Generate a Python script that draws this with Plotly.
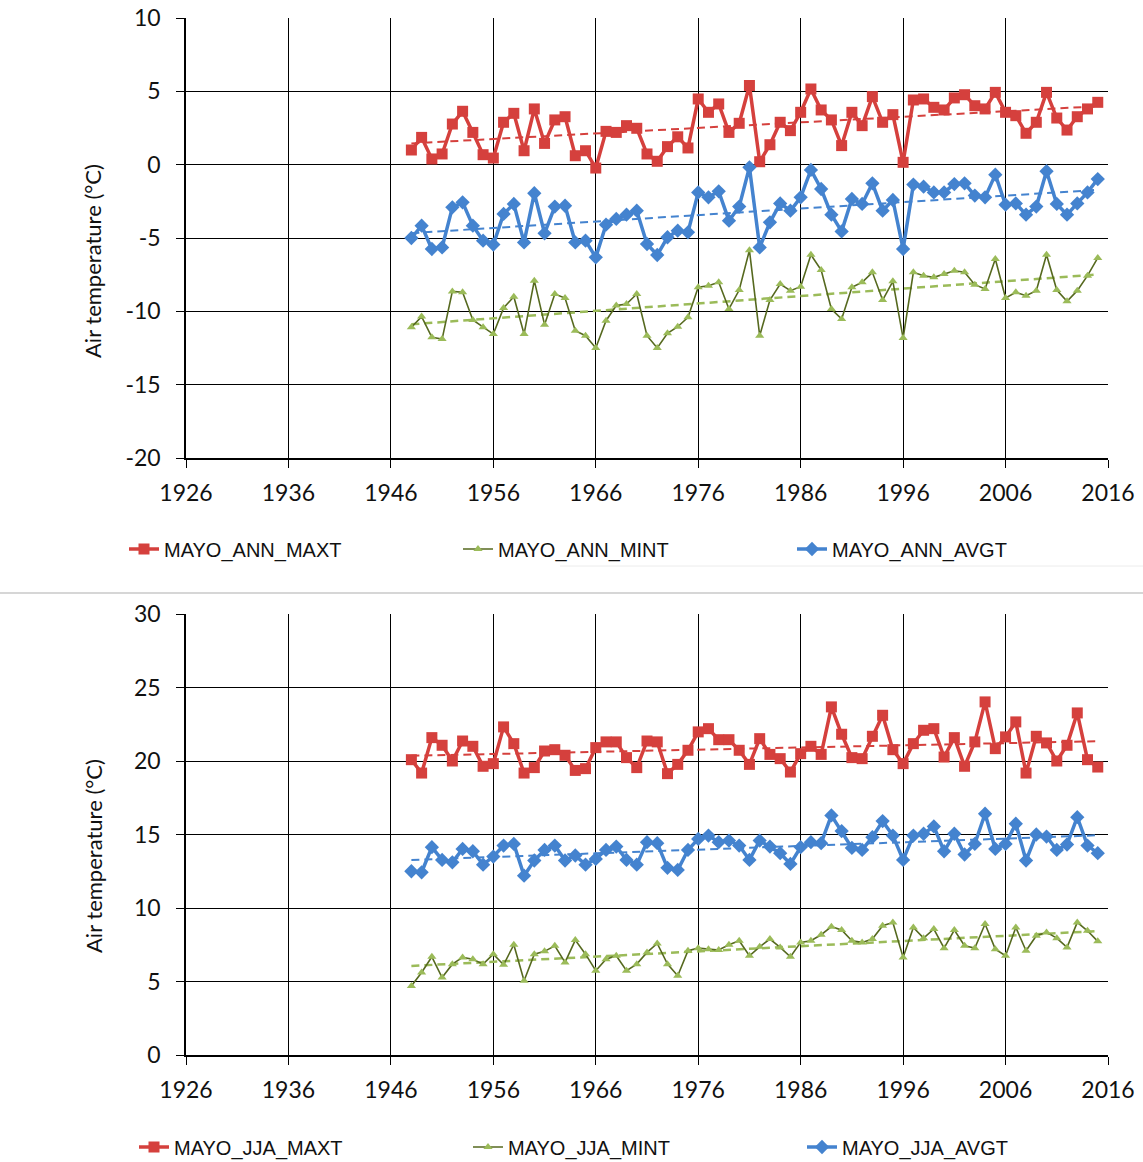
import numpy as np
import plotly.graph_objects as go

# Station years
years = list(range(1948, 2016))

# Annual means (°C)
ann_maxt = [1.0, 1.86, 0.39, 0.73, 2.77, 3.64, 2.2, 0.68, 0.45, 2.89,
            3.5, 0.95, 3.8, 1.45, 3.05, 3.27, 0.61, 0.95, -0.23, 2.27,
            2.2, 2.66, 2.48, 0.73, 0.23, 1.23, 1.9, 1.14, 4.48, 3.57,
            4.14, 2.2, 2.82, 5.4, 0.2, 1.36, 2.89, 2.32, 3.57, 5.16,
            3.73, 3.05, 1.3, 3.57, 2.66, 4.64, 2.89, 3.41, 0.16, 4.41,
            4.48, 3.91, 3.73, 4.55, 4.77, 4.02, 3.8, 4.93, 3.57, 3.34,
            2.14, 2.89, 4.93, 3.18, 2.36, 3.27, 3.8, 4.25]
ann_mint = [-11.09, -10.36, -11.77, -11.89, -8.64, -8.7, -10.59, -11.09, -11.55, -9.77,
            -9.0, -11.55, -7.91, -10.91, -8.82, -9.09, -11.32, -11.66, -12.5, -10.64,
            -9.61, -9.5, -8.82, -11.66, -12.5, -11.5, -11.05, -10.41, -8.36, -8.25,
            -8.02, -9.84, -8.55, -5.84, -11.66, -9.23, -8.14, -8.59, -8.32, -6.14,
            -7.18, -9.84, -10.52, -8.36, -8.02, -7.34, -9.23, -7.95, -11.82, -7.34,
            -7.57, -7.68, -7.45, -7.23, -7.34, -8.18, -8.48, -6.43, -9.09, -8.7,
            -8.93, -8.59, -6.14, -8.55, -9.32, -8.59, -7.57, -6.36]
ann_avgt = [-5.0, -4.16, -5.75, -5.64, -2.91, -2.57, -4.16, -5.18, -5.45, -3.36,
            -2.68, -5.3, -1.95, -4.68, -2.86, -2.8, -5.3, -5.18, -6.32, -4.09,
            -3.7, -3.41, -3.14, -5.41, -6.16, -4.95, -4.5, -4.61, -1.89, -2.23,
            -1.82, -3.82, -2.86, -0.18, -5.64, -3.93, -2.64, -3.14, -2.23, -0.36,
            -1.66, -3.41, -4.55, -2.34, -2.68, -1.27, -3.14, -2.41, -5.75, -1.36,
            -1.5, -1.89, -1.89, -1.32, -1.27, -2.11, -2.23, -0.68, -2.73, -2.64,
            -3.41, -2.86, -0.45, -2.68, -3.41, -2.64, -1.89, -0.98]

# Summer (June-July-August) means (°C)
jja_maxt = [20.09, 19.18, 21.59, 21.07, 20.0, 21.36, 21.0, 19.64, 19.82, 22.32,
            21.18, 19.18, 19.55, 20.68, 20.77, 20.39, 19.36, 19.48, 20.91, 21.3,
            21.3, 20.23, 19.55, 21.36, 21.3, 19.14, 19.77, 20.73, 21.98, 22.2,
            21.45, 21.45, 20.73, 19.77, 21.52, 20.45, 20.16, 19.25, 20.5, 21.0,
            20.45, 23.68, 21.82, 20.23, 20.16, 21.68, 23.11, 20.77, 19.82, 21.18,
            22.09, 22.2, 20.27, 21.59, 19.64, 21.3, 24.02, 20.84, 21.64, 22.66,
            19.18, 21.68, 21.23, 20.0, 21.07, 23.27, 20.09, 19.59]
jja_mint = [4.7, 5.61, 6.68, 5.27, 6.18, 6.64, 6.52, 6.18, 6.86, 6.14,
            7.5, 5.05, 6.86, 7.05, 7.43, 6.3, 7.82, 6.86, 5.73, 6.52,
            6.75, 5.73, 6.18, 6.98, 7.59, 6.18, 5.39, 7.09, 7.27, 7.2,
            7.14, 7.5, 7.77, 6.75, 7.36, 7.89, 7.32, 6.68, 7.66, 7.77,
            8.18, 8.73, 8.5, 7.77, 7.66, 7.89, 8.8, 9.02, 6.64, 8.68,
            7.95, 8.57, 7.27, 8.5, 7.43, 7.27, 8.91, 7.2, 6.75, 8.68,
            7.09, 8.11, 8.34, 7.95, 7.32, 9.02, 8.45, 7.73]
jja_avgt = [12.5, 12.43, 14.14, 13.27, 13.11, 14.02, 13.86, 12.95, 13.5, 14.25,
            14.36, 12.2, 13.23, 13.95, 14.25, 13.23, 13.57, 12.95, 13.34, 13.95,
            14.18, 13.27, 12.95, 14.48, 14.41, 12.73, 12.59, 13.95, 14.7, 14.93,
            14.48, 14.59, 14.25, 13.27, 14.59, 14.18, 13.73, 13.0, 14.14, 14.48,
            14.41, 16.3, 15.23, 14.09, 13.95, 14.82, 15.91, 14.93, 13.27, 14.93,
            15.05, 15.55, 13.86, 15.05, 13.64, 14.36, 16.41, 14.02, 14.36, 15.73,
            13.23, 15.0, 14.86, 13.95, 14.32, 16.18, 14.25, 13.73]

x_ticks = [1926, 1936, 1946, 1956, 1966, 1976, 1986, 1996, 2006, 2016]
y_ticks_ann = [-20, -15, -10, -5, 0, 5, 10]
y_ticks_jja = [0, 5, 10, 15, 20, 25, 30]

RED = "#d5403d"
BLUE = "#4483cf"
GREEN_MK = "#9bbb59"
GREEN_LN = "#56691f"

W, H = 1143, 1162


def px_x(p):
    return p / W


def px_y(p):
    return 1 - p / H


fig = go.Figure()

panels = [
    ("", "legend", [
        ("MAYO_ANN_MAXT", ann_maxt, "maxt"),
        ("MAYO_ANN_MINT", ann_mint, "mint"),
        ("MAYO_ANN_AVGT", ann_avgt, "avgt"),
    ]),
    ("2", "legend2", [
        ("MAYO_JJA_MAXT", jja_maxt, "maxt"),
        ("MAYO_JJA_MINT", jja_mint, "mint"),
        ("MAYO_JJA_AVGT", jja_avgt, "avgt"),
    ]),
]

styles = {
    "maxt": dict(line=dict(color=RED, width=3.5),
                 marker=dict(symbol="square", size=11, color=RED),
                 trend=dict(color=RED, width=2, dash="8px,5px")),
    "mint": dict(line=dict(color=GREEN_LN, width=1.6),
                 marker=dict(symbol="triangle-up", size=8, color=GREEN_MK),
                 trend=dict(color=GREEN_MK, width=2.5, dash="8px,5px")),
    "avgt": dict(line=dict(color=BLUE, width=3.5),
                 marker=dict(symbol="diamond", size=11, color=BLUE),
                 trend=dict(color=BLUE, width=2, dash="8px,5px")),
}

yr = np.array(years, dtype=float)
for suffix, leg, series in panels:
    xa = "x" + suffix
    ya = "y" + suffix
    # linear trend lines drawn beneath the data
    for name, vals, key in series:
        slope, icpt = np.polyfit(yr, np.array(vals), 1)
        fig.add_trace(go.Scatter(
            x=[years[0], years[-1]], y=[icpt + slope * years[0], icpt + slope * years[-1]],
            mode="lines", line=styles[key]["trend"], showlegend=False,
            hoverinfo="skip", xaxis=xa, yaxis=ya))
    for name, vals, key in series:
        fig.add_trace(go.Scatter(
            x=years, y=vals, name=name, mode="lines+markers",
            line=styles[key]["line"], marker=styles[key]["marker"],
            legend=leg, xaxis=xa, yaxis=ya))

tick_font = dict(family="Lato, Calibri, sans-serif", size=23, color="#111111")
axis_common = dict(
    showgrid=True, gridcolor="#000000", gridwidth=1.3,
    showline=True, linecolor="#000000", linewidth=1.5,
    ticks="outside", ticklen=8, tickwidth=1.3, tickcolor="#000000",
    tickfont=tick_font, zeroline=False, mirror=False, automargin=False,
)

xdom = [px_x(186), px_x(1108)]
legend_font = dict(family="Liberation Sans, Arial, sans-serif", size=20, color="#111111")
fig.update_layout(
    width=W, height=H,
    margin=dict(l=0, r=0, t=0, b=0, autoexpand=False),
    paper_bgcolor="white", plot_bgcolor="white",
    xaxis=dict(domain=xdom, range=[1926, 2016], tickvals=x_ticks, anchor="y",
               ticklabelstandoff=6, **axis_common),
    yaxis=dict(domain=[px_y(458), px_y(18)], range=[-20, 10], tickvals=y_ticks_ann,
               ticktext=[str(v) for v in y_ticks_ann], anchor="x",
               ticklabelstandoff=11, **axis_common),
    xaxis2=dict(domain=xdom, range=[1926, 2016], tickvals=x_ticks, anchor="y2",
                ticklabelstandoff=6, **axis_common),
    yaxis2=dict(domain=[px_y(1055), px_y(614)], range=[0, 30], tickvals=y_ticks_jja,
                ticktext=[str(v) for v in y_ticks_jja], anchor="x2",
                ticklabelstandoff=11, **axis_common),
    legend=dict(orientation="h", x=px_x(124), y=px_y(549), xanchor="left", yanchor="middle",
                font=legend_font, entrywidth=289, entrywidthmode="pixels",
                bgcolor="rgba(0,0,0,0)"),
    legend2=dict(orientation="h", x=px_x(134), y=px_y(1147), xanchor="left", yanchor="middle",
                 font=legend_font, entrywidth=289, entrywidthmode="pixels",
                 bgcolor="rgba(0,0,0,0)"),
    showlegend=True,
)

title_font = dict(family="Lato, Calibri, sans-serif", size=22, color="#111111")
for yc in (261, 856):
    fig.add_annotation(text="Air temperature (°C)", xref="paper", yref="paper",
                       x=px_x(93), y=px_y(yc), showarrow=False, textangle=-90,
                       font=title_font, xanchor="center", yanchor="middle")

# divider between the two charts
fig.add_shape(type="line", xref="paper", yref="paper", x0=0, x1=1,
              y0=px_y(593), y1=px_y(593), line=dict(color="#c8c8c8", width=1.5))
fig.add_shape(type="line", xref="paper", yref="paper", x0=px_x(560), x1=1,
              y0=px_y(566), y1=px_y(566), line=dict(color="#ececec", width=1))

fig.write_html("out.html")
